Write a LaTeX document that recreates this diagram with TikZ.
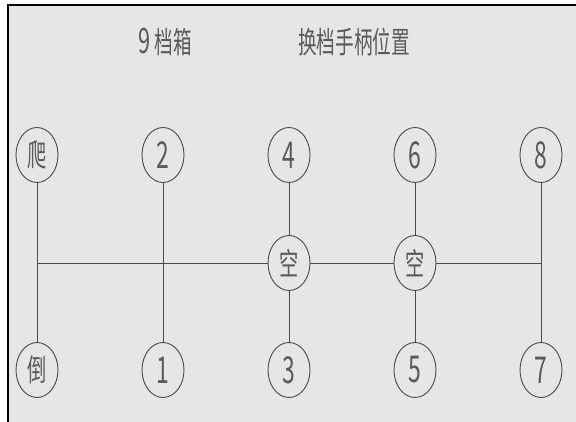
\documentclass[tikz,border=0pt]{standalone}
\usepackage{fontspec}
\usepackage{xcolor}
\usetikzlibrary{shapes.geometric}
\newfontfamily\cadfont[FakeStretch=0.62]{Noto Sans CJK SC}
\newcommand\cadnum[1]{{\fontsize{37}{37}\selectfont #1}}
\definecolor{cadline}{HTML}{4A4A4A}
\definecolor{cadtext}{HTML}{5A5A5A}
\definecolor{paper}{HTML}{E6E6E6}
\tikzset{
gear/.style={ellipse,draw=cadline,line width=0.9pt,minimum width=42pt,minimum height=55pt,inner sep=0pt,text=cadtext,font=\cadfont\fontsize{31}{31}\selectfont},
title/.style={text=cadtext,inner sep=0pt,font=\cadfont\fontsize{30}{30}\selectfont},
rod/.style={cadline,line width=0.9pt}
}
\begin{document}
\begin{tikzpicture}[x=1pt,y=-1pt]
\useasboundingbox (0,0) rectangle (576,422);
\fill[white](0,0) rectangle (576,422);
\fill[paper](8,5) rectangle (576,422);
\draw[black,line width=2pt](8,422)--(8,5)--(576,5);
\node[title] (t1) at (165,42) {{\fontsize{35}{35}\selectfont 9}\hspace{4pt}档箱};
\node[title] (t2) at (354,42) {换档手柄位置};
\node[gear] (pa) at (37,155) {爬};
\node[gear] (g2) at (163,155) {\cadnum{2}};
\node[gear] (g4) at (289,155) {\cadnum{4}};
\node[gear] (g6) at (415,155) {\cadnum{6}};
\node[gear] (g8) at (541,155) {\cadnum{8}};
\node[gear] (k1) at (289,263) {空};
\node[gear] (k2) at (415,263) {空};
\node[gear] (dao) at (37,370) {倒};
\node[gear] (g1) at (163,370) {\cadnum{1}};
\node[gear] (g3) at (289,370) {\cadnum{3}};
\node[gear] (g5) at (415,370) {\cadnum{5}};
\node[gear] (g7) at (541,370) {\cadnum{7}};
\coordinate (hl) at (37,263);
\coordinate (hr) at (541,263);
\draw[rod](hl)--(k1.west)
(k1.east)--(k2.west)
(k2.east)--(hr);
\draw[rod](pa.south)--(dao.north)
(g2.south)--(g1.north)
(g4.south)--(k1.north)
(k1.south)--(g3.north)
(g6.south)--(k2.north)
(k2.south)--(g5.north)
(g8.south)--(g7.north);
\end{tikzpicture}
\end{document}
